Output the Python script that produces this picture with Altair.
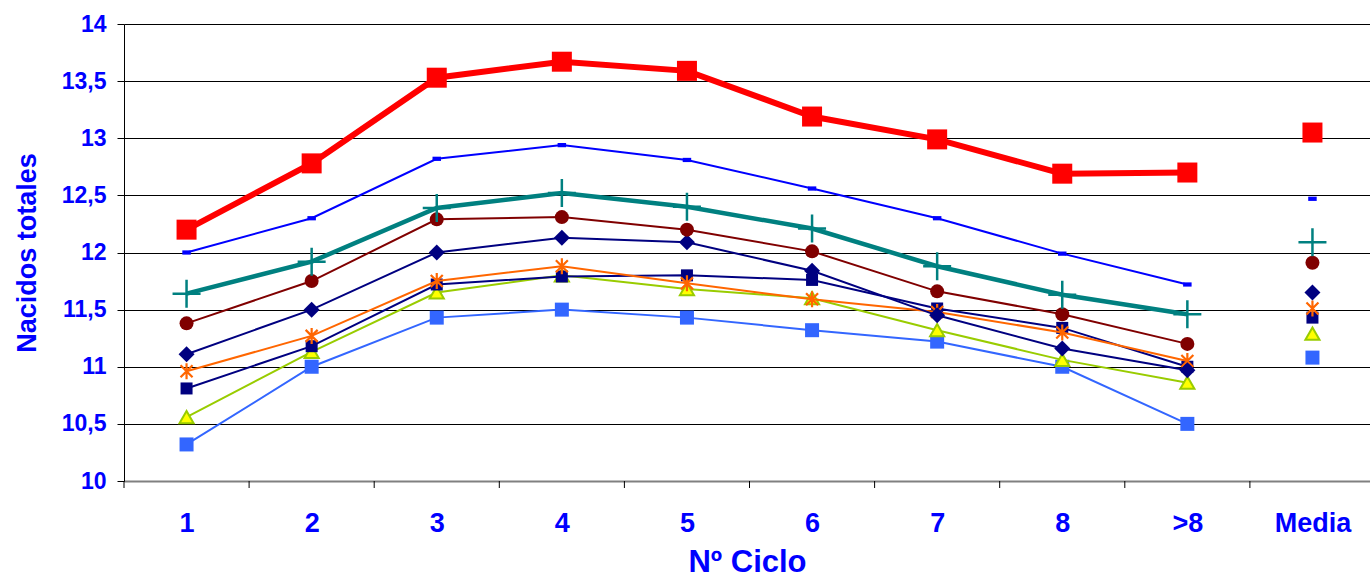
import altair as alt
import pandas as pd

categories = ["1", "2", "3", "4", "5", "6", "7", "8", ">8", "Media"]
y_ticks = [10, 10.5, 11, 11.5, 12, 12.5, 13, 13.5, 14]

s_red = [12.20, 12.78, 13.53, 13.67, 13.59, 13.19, 12.99, 12.69, 12.70, 13.05]
s_blue = [12.00, 12.30, 12.82, 12.94, 12.81, 12.56, 12.30, 11.99, 11.72, 12.47]
s_teal = [11.64, 11.92, 12.39, 12.52, 12.40, 12.21, 11.88, 11.63, 11.46, 12.09]
s_maroon = [11.38, 11.75, 12.29, 12.31, 12.20, 12.01, 11.66, 11.46, 11.20, 11.91]
s_diamond = [11.11, 11.50, 12.00, 12.13, 12.09, 11.84, 11.45, 11.16, 10.97, 11.65]
s_orange = [10.96, 11.27, 11.75, 11.88, 11.73, 11.59, 11.48, 11.30, 11.05, 11.51]
s_navy = [10.81, 11.18, 11.72, 11.79, 11.80, 11.76, 11.51, 11.34, 11.00, 11.43]
s_green = [10.56, 11.13, 11.65, 11.80, 11.68, 11.60, 11.32, 11.06, 10.86, 11.29]
s_lightblue = [10.32, 11.00, 11.43, 11.50, 11.43, 11.32, 11.22, 11.00, 10.50, 11.08]

BLUE = "#0000FF"
FONT = "Liberation Sans"
PLUS = "M-1,0H1M0,-1V1"
ASTER = "M0,-1V1M-0.75,-0.75L0.75,0.75M-0.75,0.75L0.75,-0.75"
DASH = "M-1,-0.5H1V0.5H-1Z"

# (values, line color, line width, point mark kwargs)
series = [
    (s_lightblue, "#3366FF", 2, dict(shape="square", filled=True, color="#3366FF", size=196)),
    (s_green, "#99CC00", 2, dict(shape="triangle-up", filled=True, fill="#FFFF00", stroke="#99CC00", strokeWidth=2, size=200)),
    (s_navy, "#000080", 2, dict(shape="square", filled=True, color="#000080", size=144)),
    (s_orange, "#FF6600", 2, dict(shape=ASTER, filled=False, stroke="#FF6600", strokeWidth=2.2, size=256)),
    (s_diamond, "#000080", 2, dict(shape="diamond", filled=True, color="#000080", size=256)),
    (s_maroon, "#800000", 2, dict(shape="circle", filled=True, color="#800000", size=196)),
    (s_teal, "#008080", 4.5, dict(shape=PLUS, filled=False, stroke="#008080", strokeWidth=2.5, size=784)),
    (s_blue, "#0000FF", 2, dict(shape=DASH, filled=True, color="#0000FF", size=72)),
    (s_red, "#FF0000", 6, dict(shape="square", filled=True, color="#FF0000", size=400)),
]

label_expr = "[" + ",".join("'" + c + "'" for c in categories) + "][datum.value]"

x_enc = alt.X(
    "idx:Q",
    scale=alt.Scale(domain=[-0.5, 9.46], nice=False, zero=False),
    axis=alt.Axis(
        values=list(range(len(categories))),
        labelExpr=label_expr,
        title="Nº Ciclo",
        grid=False,
        ticks=False,
        domainColor="#808080",
        domainWidth=2,
        labelFont=FONT,
        labelFontSize=27,
        labelFontWeight="bold",
        labelColor=BLUE,
        labelPadding=29,
        titleFont=FONT,
        titleFontSize=31,
        titleFontWeight="bold",
        titleColor=BLUE,
        titlePadding=11,
    ),
)
y_enc = alt.Y(
    "value:Q",
    scale=alt.Scale(domain=[10, 14], nice=False, zero=False),
    axis=alt.Axis(
        values=y_ticks,
        labelExpr="replace(format(datum.value, '.1~f'), '.', ',')",
        title="Nacidos totales",
        grid=True,
        gridColor="#000000",
        gridWidth=1,
        domainColor="#000000",
        domainWidth=1,
        tickColor="#000000",
        tickSize=7,
        labelFont=FONT,
        labelFontSize=23,
        labelFontWeight="bold",
        labelColor=BLUE,
        labelPadding=11,
        titleFont=FONT,
        titleFontSize=27,
        titleFontWeight="bold",
        titleColor=BLUE,
        titlePadding=20,
    ),
)

layers = []
# x tick marks at the category boundaries
bounds = pd.DataFrame({"idx": [i - 0.5 for i in range(len(categories))]})
layers.append(
    alt.Chart(bounds).mark_rule(color="#000000", strokeWidth=1).encode(
        x=x_enc, y=alt.value(457), y2=alt.value(464)
    )
)

for vals, lcolor, lwidth, pkw in series:
    df = pd.DataFrame({"idx": list(range(len(categories))), "value": vals})
    line_df = df[df["idx"] < len(categories) - 1]
    layers.append(
        alt.Chart(line_df).mark_line(color=lcolor, strokeWidth=lwidth).encode(x=x_enc, y=y_enc)
    )
    layers.append(
        alt.Chart(df).mark_point(opacity=1, **pkw).encode(x=x_enc, y=y_enc)
    )

chart = (
    alt.layer(*layers)
    .properties(
        width=1246,
        height=457,
        padding={"left": 124, "top": 24, "right": 0, "bottom": 100},
        autosize=alt.AutoSizeParams(type="none"),
        background="white",
    )
    .configure_view(stroke=None)
)

chart.save("out.html", embed_options={"renderer": "svg", "actions": False})
